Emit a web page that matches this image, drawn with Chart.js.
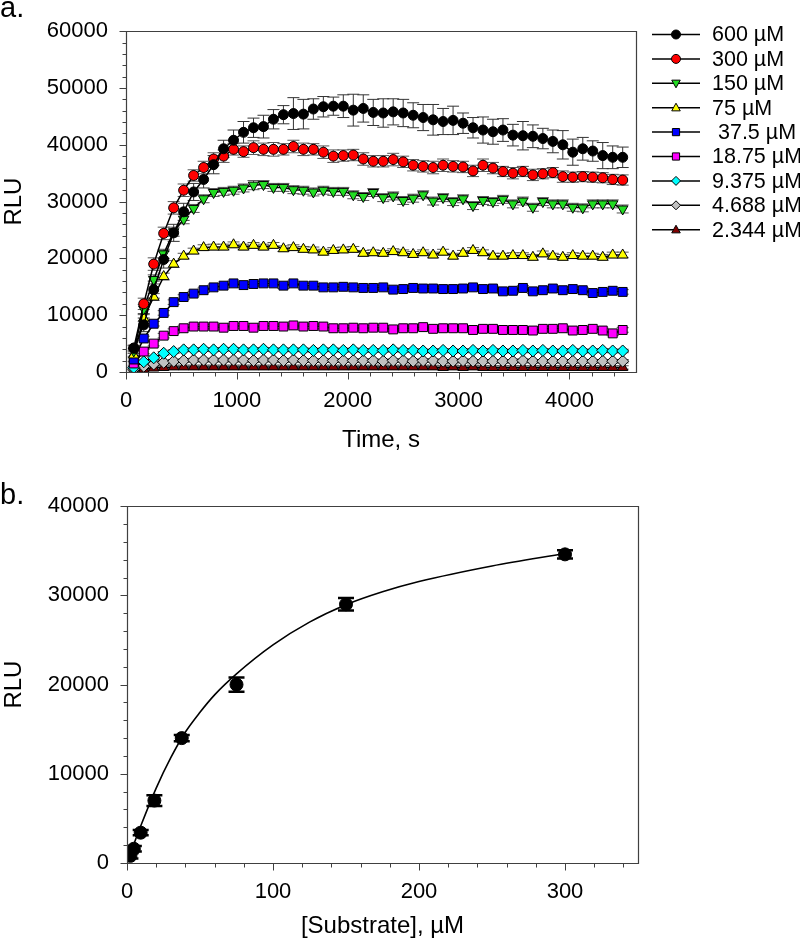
<!DOCTYPE html>
<html><head><meta charset="utf-8">
<script src="https://cdn.jsdelivr.net/npm/chart.js@4"></script>
<style>
html,body{margin:0;padding:0;background:#fff;}
#wrap{position:relative;width:800px;height:946px;overflow:hidden;}
canvas{position:absolute;left:0;}
.lab{position:absolute;font-family:'Liberation Sans',Arial,sans-serif;font-size:29px;line-height:32px;color:#000;}
</style></head><body>
<div id="wrap">
<canvas id="ca" width="800" height="475" style="top:0"></canvas>
<canvas id="cb" width="800" height="471" style="top:475px"></canvas>
<div class="lab" style="left:0;top:-9px">a.</div>
<div class="lab" style="left:0;top:478px">b.</div>
</div>
<script>
// ---------- Panel a data ----------
const times = [70,160,250,340,430,520,610,700,790,880,970,1060,1150,1240,1330,1420,1510,1600,1690,1780,1870,1960,2050,2140,2230,2320,2410,2500,2590,2680,2770,2860,2950,3040,3130,3220,3310,3400,3490,3580,3670,3760,3850,3940,4030,4120,4210,4300,4390,4480];
const labelsA = ['600 µM','300 µM','150 µM','75 µM',' 37.5 µM','18.75 µM','9.375 µM','4.688 µM','2.344 µM'];
const s600 = [4200,8300,14500,19800,24500,28200,31700,33900,36500,39300,40800,42200,43000,43200,44500,45300,45500,45400,46300,46700,46800,46800,46100,46400,45700,45600,45800,45600,45200,44800,44400,44100,44300,43800,43000,42600,42300,42600,41700,41600,41500,41100,40600,40000,38700,39300,38900,38100,37800,37800];
const s300 = [4200,12000,19000,24400,28900,32000,34600,36000,37500,38000,39200,38800,39500,39200,39200,39200,39700,39200,39200,38700,38000,38100,38200,37500,37100,37100,37400,37000,36400,36200,36000,36400,36200,36100,35400,36400,35900,35300,35000,35300,34700,34900,35100,34400,34300,34400,34300,34200,33900,33800];
const s150 = [3700,11100,16300,20800,24700,26900,28800,30500,31600,31800,32000,32400,32900,33000,32500,32500,32100,32000,31700,32000,31800,31800,31200,30900,31600,30700,31000,30200,30600,31200,30100,30700,30000,30500,29300,30200,30000,30400,29600,30100,29000,30000,29600,29600,29000,28900,29600,29600,29600,28700];
const s75 = [3000,9500,13200,16800,19000,20400,21300,21900,22000,22000,22400,22000,22300,22000,22300,21700,21900,21600,21500,21100,21400,21500,21600,20900,21000,20900,21200,21000,20700,21000,20600,21100,20400,20900,21400,21000,20400,20400,20500,20500,20200,20800,20400,20200,20500,20400,20400,20200,20600,20600];
const s37_5 = [2200,5900,8500,10400,12300,13200,13800,14400,14900,15200,15600,15300,15500,15600,15600,15200,15600,15200,15200,14900,14900,15000,14900,14800,14800,14900,14500,14600,14800,14700,14700,14600,14600,14700,14900,14600,14700,14200,14300,14800,14200,14400,14700,14400,14600,14400,13900,14100,14300,14100];
const s18_75 = [1500,3600,5000,6400,7200,7700,8000,8000,8000,7800,8100,8100,7800,8100,8100,8000,8200,8000,8100,8000,7700,7700,7800,7700,7800,7800,7500,7700,7700,7900,7600,7700,7700,7700,7400,7600,7600,7400,7400,7400,7300,7600,7600,7700,7300,7400,7600,7300,6800,7400];
const s9_375 = [800,1800,2500,3300,3600,3900,3900,4000,3900,4000,4000,3900,3900,4000,3900,3900,3900,3900,3800,3900,3900,3800,3900,3800,3800,3800,3900,3800,3800,3700,3700,3800,3700,3700,3800,3700,3800,3700,3700,3800,3700,3800,3700,3700,3800,3700,3700,3800,3700,3700];
const s4_688 = [500,1000,1400,1700,1900,2000,2100,2100,2100,2100,2100,2100,2000,2100,2100,2000,2100,2000,2000,2000,2000,2000,2000,2000,2000,1900,2000,2000,1900,2000,2000,1900,1900,2000,1900,1900,1900,1900,1900,2000,1900,1900,1900,1900,1900,1900,1900,1900,1900,1900];
const s2_344 = [200,500,700,800,900,900,900,900,900,900,900,900,900,900,900,900,900,900,900,900,900,900,900,900,900,900,900,900,900,900,900,800,900,800,900,800,800,800,800,800,800,800,800,800,800,800,800,800,800,800];
const e600 = [500,1200,1500,1500,1500,1500,1500,1500,1600,1500,1800,1900,1700,2000,1700,1600,2800,2600,1800,1800,1600,2000,2800,2400,2300,2500,2300,2400,2200,2300,2700,2300,2500,1800,1800,2300,2200,2000,1900,2500,2000,1800,2000,2500,2300,2000,1800,2300,2000,1800];
const e300 = [500,1000,1100,1100,1100,1100,1000,1100,1100,1100,1000,1000,1200,1100,1200,1000,1100,1100,1000,1100,1100,1000,1000,1100,1000,1000,1100,1000,1000,1000,1100,1100,1000,1000,1000,1100,1000,900,1000,900,1000,900,900,1000,900,900,900,900,900,900];
const e150 = [400,800,800,800,800,800,700,700,700,700,700,700,800,700,700,700,700,700,700,700,700,700,700,700,700,700,700,700,700,700,700,700,700,700,700,700,700,700,700,700,700,700,700,700,700,700,700,700,700,700];
const e75 = [300,600,600,600,600,500,500,500,500,500,500,500,500,500,500,500,500,500,500,500,500,500,500,500,500,500,500,500,500,500,500,500,500,500,500,500,500,500,500,500,500,500,500,500,500,500,500,500,500,500];
const e37_5 = [300,400,400,400,400,400,400,400,400,400,400,400,400,400,400,500,400,400,400,400,400,400,400,400,400,400,400,400,400,400,400,400,400,400,400,400,400,400,400,400,400,400,400,400,400,400,400,400,400,400];
const e18_75 = [300,400,400,400,400,400,400,400,400,400,400,400,400,400,400,400,400,400,400,400,400,400,400,400,400,400,400,400,400,400,400,400,400,400,400,400,400,400,400,400,400,400,400,400,400,400,400,400,400,400];
const e9_375 = [200,300,300,300,300,300,300,300,300,300,300,300,300,300,300,300,300,300,300,300,300,300,300,300,300,300,300,300,300,300,300,300,300,300,300,300,300,300,300,300,300,300,300,300,300,300,300,300,300,300];
const e4_688 = [200,300,300,300,300,300,300,300,300,300,300,300,300,300,300,300,300,300,300,300,300,300,300,300,300,300,300,300,300,300,300,300,300,300,300,300,300,300,300,300,300,300,300,300,300,300,300,300,300,300];
const e2_344 = [200,300,300,300,300,300,300,300,300,300,300,300,300,300,300,300,300,300,300,300,300,300,300,300,300,300,300,300,300,300,300,300,300,300,300,300,300,300,300,300,300,300,300,300,300,300,300,300,300,300];
const aXTicks = [0,1000,2000,3000,4000];
const aYTicks = [0,10000,20000,30000,40000,50000,60000];

// ---------- Panel b data ----------
const substrate = [2.344,4.688,9.375,18.75,37.5,75,150,300];
const rluB = [800,1600,3400,7000,14000,20000,29000,34600];
const errB = [300,300,300,600,350,800,700,450];
const fitX = [0,5,10,20,30,40,50,60,75,100,125,150,175,200,250,300];
const fitY = [0,2250,4400,8400,11800,14680,16900,18850,21200,24450,27000,28950,30400,31550,33300,34700];
const bXTicks = [0,100,200,300];
const bYTicks = [0,10000,20000,30000,40000];

// ---------- helpers ----------
const FONT = "'Liberation Sans', Arial, sans-serif";
const AXIS = '#404040';

function drawMarker(ctx, style, x, y, r, fill) {
  ctx.save();
  ctx.fillStyle = fill; ctx.strokeStyle = '#000'; ctx.lineWidth = 1;
  ctx.beginPath();
  if (style === 'circle') ctx.arc(x, y, r, 0, Math.PI * 2);
  else if (style === 'triUp') { ctx.moveTo(x, y - r); ctx.lineTo(x + r * 0.95, y + r * 0.7); ctx.lineTo(x - r * 0.95, y + r * 0.7); ctx.closePath(); }
  else if (style === 'triDown') { ctx.moveTo(x, y + r); ctx.lineTo(x + r * 0.95, y - r * 0.7); ctx.lineTo(x - r * 0.95, y - r * 0.7); ctx.closePath(); }
  else if (style === 'rect') ctx.rect(x - r * 0.8, y - r * 0.8, r * 1.6, r * 1.6);
  else if (style === 'diamond') { ctx.moveTo(x, y - r); ctx.lineTo(x + r, y); ctx.lineTo(x, y + r); ctx.lineTo(x - r, y); ctx.closePath(); }
  ctx.fill(); ctx.stroke();
  ctx.restore();
}

const errorBars = {
  id: 'errorBars',
  beforeDatasetsDraw(chart) {
    const ctx = chart.ctx, xs = chart.scales.x, ys = chart.scales.y, a = chart.chartArea;
    ctx.save();
    ctx.beginPath(); ctx.rect(a.left, a.top, a.right - a.left, a.bottom - a.top); ctx.clip();
    chart.data.datasets.forEach((ds) => {
      if (!ds.errs) return;
      ctx.strokeStyle = ds.errColor; ctx.lineWidth = ds.errWidth;
      const c = ds.errCap;
      ds.data.forEach((p, i) => {
        const x = xs.getPixelForValue(p.x);
        const y1 = ys.getPixelForValue(p.y + ds.errs[i]);
        const y2 = ys.getPixelForValue(p.y - ds.errs[i]);
        ctx.beginPath();
        ctx.moveTo(x, y1); ctx.lineTo(x, y2);
        ctx.moveTo(x - c, y1); ctx.lineTo(x + c, y1);
        ctx.moveTo(x - c, y2); ctx.lineTo(x + c, y2);
        ctx.stroke();
      });
    });
    ctx.restore();
  }
};

const frameTicks = {
  id: 'frameTicks',
  afterDraw(chart, args, opts) {
    const ctx = chart.ctx, a = chart.chartArea, xs = chart.scales.x, ys = chart.scales.y;
    ctx.save();
    ctx.strokeStyle = AXIS; ctx.lineWidth = 1.2;
    const L = Math.round(a.left) + 0.5, R = Math.round(a.right) + 0.5, T = Math.round(a.top) + 0.5, B = Math.round(a.bottom) + 0.5;
    ctx.beginPath(); ctx.moveTo(L, T); ctx.lineTo(R, T); ctx.lineTo(R, B); ctx.lineTo(L, B); ctx.closePath(); ctx.stroke();
    ctx.lineWidth = 1;
    ctx.beginPath();
    for (let v = opts.xMin; v <= opts.xMaxTick + 1e-9; v += opts.xMinor) {
      const px = Math.round(xs.getPixelForValue(v)) + 0.5;
      const major = opts.xMajorList.includes(Math.round(v));
      ctx.moveTo(px, B); ctx.lineTo(px, B + (major ? 7 : 4));
    }
    for (let v = opts.yMin; v <= opts.yMaxTick + 1e-9; v += opts.yMinor) {
      const py = Math.round(ys.getPixelForValue(v)) + 0.5;
      const major = opts.yMajorList.includes(Math.round(v));
      ctx.moveTo(L, py); ctx.lineTo(L - (major ? 7 : 4), py);
    }
    ctx.stroke();
    ctx.restore();
  }
};

const legendA = {
  id: 'legendA',
  afterDraw(chart, args, opts) {
    if (!opts.show) return;
    const ctx = chart.ctx;
    chart.data.datasets.forEach((ds, i) => {
      const y = 34.5 + i * 24.4;
      ctx.save();
      ctx.strokeStyle = '#000'; ctx.lineWidth = 1.5;
      ctx.beginPath(); ctx.moveTo(652, y); ctx.lineTo(700, y); ctx.stroke();
      ctx.restore();
      drawMarker(ctx, ds.mstyle, 676, y, 4.5, ds.pointBackgroundColor);
      ctx.save();
      ctx.fillStyle = '#000'; ctx.font = '21.5px ' + FONT; ctx.textBaseline = 'middle'; ctx.textAlign = 'left';
      ctx.fillText(ds.label, 712, y + 1);
      ctx.restore();
    });
  }
};

// ---------- Panel a ----------
const seriesA = [
  {vals: s600, errs: e600, color: '#000000', style: 'circle', ec: '#333333'},
  {vals: s300, errs: e300, color: '#ff0000', style: 'circle', ec: '#555555'},
  {vals: s150, errs: e150, color: '#22dd22', style: 'triDown', ec: '#555555'},
  {vals: s75, errs: e75, color: '#ffff00', style: 'triUp', ec: '#555555'},
  {vals: s37_5, errs: e37_5, color: '#0000ff', style: 'rect', ec: '#555555'},
  {vals: s18_75, errs: e18_75, color: '#ff00ff', style: 'rect', ec: '#555555'},
  {vals: s9_375, errs: e9_375, color: '#00ffff', style: 'diamond', ec: '#555555'},
  {vals: s4_688, errs: e4_688, color: '#c0c0c0', style: 'diamond', ec: '#555555'},
  {vals: s2_344, errs: e2_344, color: '#800000', style: 'triUp', ec: '#555555'}
];
const cjsStyle = {circle: ['circle', 0, 5], triUp: ['triangle', 0, 6], triDown: ['triangle', 180, 6], rect: ['rect', 0, 6.3], diamond: ['rectRot', 0, 6]};

const datasetsA = seriesA.map((s, k) => ({
  label: labelsA[k],
  data: times.map((t, i) => ({x: t, y: s.vals[i]})),
  borderColor: '#000', borderWidth: 1.5, tension: 0, fill: false,
  pointStyle: cjsStyle[s.style][0], pointRotation: cjsStyle[s.style][1], pointRadius: cjsStyle[s.style][2],
  pointBackgroundColor: s.color, pointBorderColor: '#000', pointBorderWidth: 1,
  errs: s.errs, errColor: s.ec, errWidth: 1, errCap: 6, mstyle: s.style
}));

const tickFont = {family: FONT, size: 22};
const titleFont = {family: FONT, size: 24};

new Chart(document.getElementById('ca'), {
  type: 'line',
  data: {datasets: datasetsA},
  options: {
    responsive: false, animation: false, devicePixelRatio: 1,
    layout: {padding: {left: 0, right: 164, top: 13, bottom: 13}, autoPadding: false},
    plugins: {
      legend: {display: false}, tooltip: {enabled: false},
      legendA: {show: true},
      frameTicks: {xMin: 0, xMaxTick: 4400, xMinor: 200, xMajorList: aXTicks, yMin: 0, yMaxTick: 60000, yMinor: 2000, yMajorList: aYTicks}
    },
    scales: {
      x: {
        type: 'linear', min: 0, max: 4600,
        afterBuildTicks: (sc) => { sc.ticks = aXTicks.map(v => ({value: v})); },
        afterFit: (sc) => { sc.height = 90; },
        grid: {display: false, drawTicks: false}, border: {display: false},
        ticks: {padding: 16, color: '#000', font: tickFont, maxRotation: 0, callback: v => String(v)},
        title: {display: true, text: 'Time, s', color: '#000', font: titleFont, padding: {top: 0, bottom: 7}}
      },
      y: {
        type: 'linear', min: 0, max: 60000,
        afterBuildTicks: (sc) => { sc.ticks = aYTicks.map(v => ({value: v})); },
        afterFit: (sc) => { sc.width = 126; },
        grid: {display: false, drawTicks: false}, border: {display: false},
        ticks: {padding: 18, color: '#000', font: tickFont, callback: v => String(v)},
        title: {display: true, text: 'RLU', color: '#000', font: titleFont, padding: {top: 0, bottom: 0}}
      }
    }
  },
  plugins: [errorBars, frameTicks, legendA]
});

// ---------- Panel b ----------
new Chart(document.getElementById('cb'), {
  type: 'line',
  data: {
    datasets: [
      {
        label: 'data',
        data: substrate.map((s, i) => ({x: s, y: rluB[i]})),
        showLine: false, pointStyle: 'circle', pointRadius: 6.5,
        pointBackgroundColor: '#000', pointBorderColor: '#000', pointBorderWidth: 1,
        errs: errB, errColor: '#000', errWidth: 2.5, errCap: 8
      },
      {
        label: 'fit',
        data: fitX.map((s, i) => ({x: s, y: fitY[i]})),
        borderColor: '#000', borderWidth: 1.6, pointRadius: 0, fill: false,
        cubicInterpolationMode: 'monotone'
      }
    ]
  },
  options: {
    responsive: false, animation: false, devicePixelRatio: 1,
    layout: {padding: {left: 0, right: 162, top: 30, bottom: 0}, autoPadding: false},
    plugins: {
      legend: {display: false}, tooltip: {enabled: false},
      frameTicks: {xMin: 0, xMaxTick: 340, xMinor: 20, xMajorList: bXTicks, yMin: 0, yMaxTick: 40000, yMinor: 2000, yMajorList: bYTicks}
    },
    scales: {
      x: {
        type: 'linear', min: 0, max: 350,
        afterBuildTicks: (sc) => { sc.ticks = bXTicks.map(v => ({value: v})); },
        afterFit: (sc) => { sc.height = 83; },
        grid: {display: false, drawTicks: false}, border: {display: false},
        ticks: {padding: 16, color: '#000', font: tickFont, maxRotation: 0, callback: v => String(v)},
        title: {display: true, text: '[Substrate], µM', color: '#000', font: titleFont, padding: {top: 0, bottom: 5}}
      },
      y: {
        type: 'linear', min: 0, max: 40000,
        afterBuildTicks: (sc) => { sc.ticks = bYTicks.map(v => ({value: v})); },
        afterFit: (sc) => { sc.width = 127; },
        grid: {display: false, drawTicks: false}, border: {display: false},
        ticks: {padding: 18, color: '#000', font: tickFont, callback: v => String(v)},
        title: {display: true, text: 'RLU', color: '#000', font: titleFont, padding: {top: 0, bottom: 0}}
      }
    }
  },
  plugins: [errorBars, frameTicks]
});
</script>
</body></html>
